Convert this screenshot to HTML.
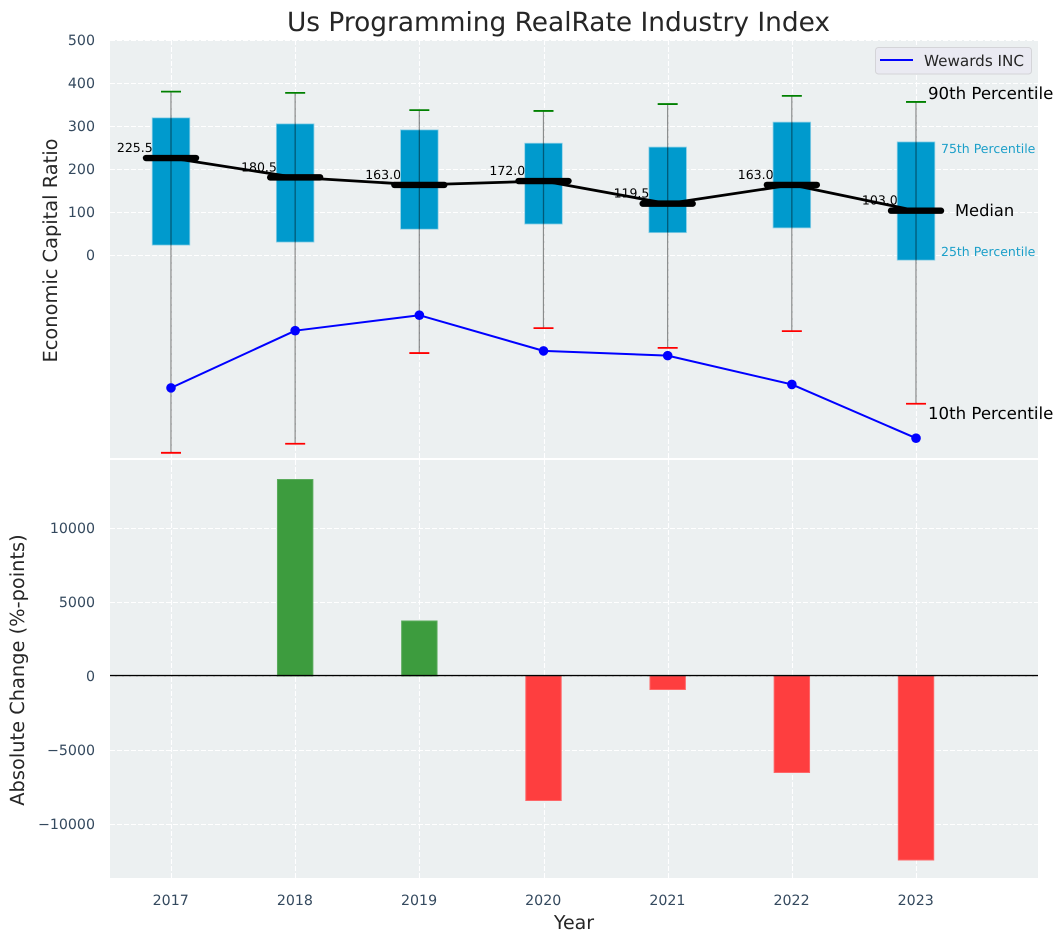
<!DOCTYPE html>
<html lang="en">
<head>
<meta charset="utf-8">
<title>Us Programming RealRate Industry Index</title>
<style>
html,body{margin:0;padding:0;background:#fff;}
svg{display:block;font-family:"DejaVu Sans","Liberation Sans",sans-serif;text-rendering:geometricPrecision;}
</style>
</head>
<body>
<svg id="chart" xmlns="http://www.w3.org/2000/svg" width="1063" height="942" viewBox="0 0 1063 942">
  <rect x="0" y="0" width="1063" height="942" fill="#ffffff"/>
  <rect x="110" y="40" width="928" height="418" fill="#ecf0f1"/>
  <rect x="110" y="460" width="928" height="418" fill="#ecf0f1"/>
  <g id="grid"></g>
  <g id="bars"></g>
  <line x1="110" x2="1038" y1="675.6" y2="675.6" stroke="#000" stroke-width="1.4"/>
  <g id="valueLabels"></g>
  <g id="boxes"></g>
  <g id="lines"></g>
  <g id="ticks"></g>

  <text x="558.5" y="31" text-anchor="middle" font-size="26.4" fill="#262626">Us Programming RealRate Industry Index</text>
  <text transform="translate(57,250.5) rotate(-90)" text-anchor="middle" font-size="19.4" fill="#262626">Economic Capital Ratio</text>
  <text transform="translate(24,670) rotate(-90)" text-anchor="middle" font-size="19.4" fill="#262626">Absolute Change (%-points)</text>
  <text x="574" y="929" text-anchor="middle" font-size="19" fill="#262626">Year</text>

  <text x="928" y="99" font-size="16.6" fill="#000">90th Percentile</text>
  <text x="941" y="153" font-size="12.5" fill="#1b9fc9">75th Percentile</text>
  <text x="955" y="216" font-size="16.3" fill="#000">Median</text>
  <text x="941" y="256" font-size="12.5" fill="#1b9fc9">25th Percentile</text>
  <text x="928" y="419" font-size="16.6" fill="#000">10th Percentile</text>

  <g>
    <rect x="875.5" y="47.5" width="156" height="26.5" rx="3" fill="#eaeaf2" stroke="#d4d4d8" stroke-width="1"/>
    <line x1="880" x2="913" y1="60" y2="60" stroke="#0000ff" stroke-width="2"/>
    <text x="924" y="66" font-size="15.2" fill="#262626">Wewards INC</text>
  </g>
</svg>
<script>
const years = [2017, 2018, 2019, 2020, 2021, 2022, 2023];
const p90 = [380, 377, 337, 335, 351, 370, 356];
const p75 = [319, 305, 291, 260, 251, 309, 263];
const medians = [225.5, 180.5, 163.0, 172.0, 119.5, 163.0, 103.0];
const p25 = [23, 30, 60, 72, 52, 63, -12];
const p10 = [-460, -439, -228, -170, -216, -177, -346];
const company = [-309, -176, -140, -223, -234, -301, -426];
const changes = [0, 13277, 3716, -8412, -912, -6520, -12432];
const topTicks = [0, 100, 200, 300, 400, 500];
const bottomTicks = [-10000, -5000, 0, 5000, 10000];

const NS = 'http://www.w3.org/2000/svg';
function xScale(year) { return 171 + (year - 2017) * 124.17; }
function yTop(v) { return 255 - v * 0.43; }
function yBottom(v) { return 676 - v * 0.0148; }
function make(tag, parent, attrs, text) {
  const el = document.createElementNS(NS, tag);
  for (const k in attrs) el.setAttribute(k, attrs[k]);
  if (text !== undefined) el.textContent = text;
  parent.appendChild(el);
  return el;
}
function fmtTick(v) { return v < 0 ? '\u2212' + Math.abs(v) : String(v); }

const gridG = document.getElementById('grid');
const gridStyle = { stroke: '#ffffff', 'stroke-width': 1.1, 'stroke-dasharray': '5 2' };
topTicks.forEach(function (t) {
  const y = Math.round(yTop(t)) + 0.5;
  const el = make('line', gridG, Object.assign({ x1: 110, x2: 1038, y1: y, y2: y }, gridStyle));
  
  
});
bottomTicks.forEach(function (t) {
  const y = Math.round(yBottom(t)) + 0.5;
  const el = make('line', gridG, Object.assign({ x1: 110, x2: 1038, y1: y, y2: y }, gridStyle));
  
  
});
years.forEach(function (yr) {
  const x = Math.round(xScale(yr)) + 0.5;
  const a = make('line', gridG, Object.assign({ x1: x, x2: x, y1: 40, y2: 458 }, gridStyle));
  
  
  const b = make('line', gridG, Object.assign({ x1: x, x2: x, y1: 460, y2: 878 }, gridStyle));
  
  
});

const barsG = document.getElementById('bars');
changes.forEach(function (v, i) {
  if (v === 0) return;
  const x = xScale(years[i]);
  const y0 = yBottom(0), y1 = yBottom(v);
  const color = v > 0 ? 'green' : 'red';
  const el = make('rect', barsG, {
    x: x - 17.7, width: 35.4,
    y: Math.min(y0, y1), height: Math.abs(y1 - y0),
    fill: color === 'green' ? '#3d9c3e' : '#fe3e3f',
    stroke: color === 'green' ? '#5aab5c' : '#fe6668',
    'stroke-width': 1
  });
  
  
});

const labelsG = document.getElementById('valueLabels');
medians.forEach(function (v, i) {
  const el = make('text', labelsG, {
    x: xScale(years[i]) - 18.3, y: yTop(v) - 6,
    'text-anchor': 'end', 'font-size': 12.5, fill: '#000'
  }, v.toFixed(1));
  
  
});

const boxesG = document.getElementById('boxes');
years.forEach(function (yr, i) {
  const x = xScale(yr);
  const box = make('rect', boxesG, {
    x: x - 18.8, width: 37.6,
    y: yTop(p75[i]), height: yTop(p25[i]) - yTop(p75[i]),
    fill: '#009acd', stroke: '#8fd0e6', 'stroke-width': 0.8
  });
  
  
  const whisk = make('line', boxesG, {
    x1: x, x2: x, y1: yTop(p90[i]), y2: yTop(p10[i]),
    stroke: '#000', 'stroke-opacity': 0.42, 'stroke-width': 1.3
  });
  
  
  const capHi = make('line', boxesG, {
    x1: x - 10, x2: x + 10, y1: yTop(p90[i]), y2: yTop(p90[i]),
    stroke: '#008000', 'stroke-width': 1.8
  });
  
  
  const capLo = make('line', boxesG, {
    x1: x - 10, x2: x + 10, y1: yTop(p10[i]), y2: yTop(p10[i]),
    stroke: '#ff0000', 'stroke-width': 1.8
  });
  
  
});

const linesG = document.getElementById('lines');
function pointsOf(values) {
  return values.map(function (v, i) { return xScale(years[i]) + ',' + yTop(v); }).join(' ');
}
const medLine = make('polyline', linesG, {
  points: pointsOf(medians), fill: 'none', stroke: '#000', 'stroke-width': 2.8, 'stroke-linejoin': 'round'
});


medians.forEach(function (v, i) {
  const x = xScale(years[i]);
  const el = make('line', linesG, {
    x1: x - 25, x2: x + 25, y1: yTop(v), y2: yTop(v),
    stroke: '#000', 'stroke-width': 6.4, 'stroke-linecap': 'round'
  });
  
  
});
const compLine = make('polyline', linesG, {
  points: pointsOf(company), fill: 'none', stroke: '#0000ff', 'stroke-width': 2, 'stroke-linejoin': 'round'
});


company.forEach(function (v, i) {
  const el = make('circle', linesG, { cx: xScale(years[i]), cy: yTop(v), r: 4.8, fill: '#0000ff' });
  
  
});

const ticksG = document.getElementById('ticks');
const tickColor = '#34495e';
topTicks.forEach(function (t) {
  const el = make('text', ticksG, { x: 95, y: yTop(t) + 5, 'text-anchor': 'end', 'font-size': 14.2, fill: tickColor }, fmtTick(t));
  
  
});
bottomTicks.forEach(function (t) {
  const el = make('text', ticksG, { x: 95, y: yBottom(t) + 5, 'text-anchor': 'end', 'font-size': 14.2, fill: tickColor }, fmtTick(t));
  
  
});
years.forEach(function (yr) {
  const el = make('text', ticksG, { x: xScale(yr) - 0.3, y: 905, 'text-anchor': 'middle', 'font-size': 14.2, fill: tickColor }, String(yr));
  
  
});
</script>
</body>
</html>
